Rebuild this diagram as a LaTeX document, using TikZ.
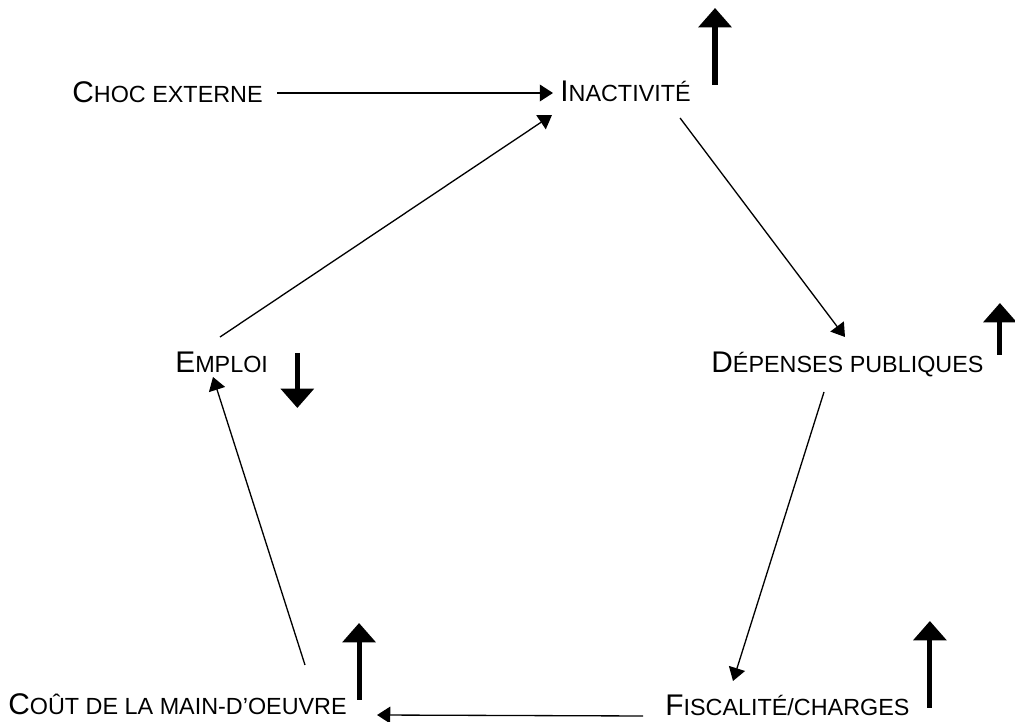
\documentclass[tikz,border=0pt]{standalone}
\usepackage{fontspec}
\setmainfont{Liberation Sans}
\usepackage{tikz}
\usetikzlibrary{calc}
\usetikzlibrary{arrows.meta}
\newcommand{\petites}[1]{{\fontsize{13.3}{15}\selectfont #1}}
\tikzset{
    etiquette/.style={inner sep=0pt, anchor=base west, font=\fontsize{17}{20}\selectfont},
    fleche/.style={line width=0.75pt, -{Triangle[length=7.5pt, width=9.5pt]}},
    tendance/.style={line width=2.9pt, -{Triangle[length=11pt, width=18.5pt]}}
}

\begin{document}
\begin{tikzpicture}[x=0.02cm, y=-0.02cm]
            % Frame to ensure alignment:
            \useasboundingbox                                                 (0, 0) rectangle (1015, 722);
            % Labels
            \node[etiquette] (choc)   at ( 72, 103) {C\petites{HOC EXTERNE}};
            \node[etiquette] (inact)  at (560, 102) {I\petites{NACTIVITÉ}};
            \node[etiquette] (dep)    at (711, 373) {D\petites{ÉPENSES PUBLIQUES}};
            \node[etiquette] (emploi) at (175, 373) {E\petites{MPLOI}};
            \node[etiquette] (cout)   at (  8, 715) {C\petites{OÛT DE LA MAIN-D’OEUVRE}};
            \node[etiquette] (fisc)   at (665, 716) {F\petites{ISCALITÉ/CHARGES}};
            % Cycle
            \draw[fleche] ($(choc.base east)+(14,-10)$)    -- ($(inact.base west)+(-7,-9)$);
            \draw[fleche] ($(inact.base east)+(-11,16)$)   -- ($(dep.base west)+(134,-36)$);
            \draw[fleche] ($(dep.base west)+(113,19)$)     -- ($(fisc.base west)+(68,-35)$);
            \draw[fleche] ($(fisc.base west)+(-22,0)$)     -- ($(cout.base east)+(30,0)$);
            \draw[fleche] ($(cout.base west)+(297,-50)$)   -- ($(emploi.base west)+(38,4)$);
            \draw[fleche] ($(emploi.base west)+(45,-36)$)  -- ($(inact.base west)+(-8,13)$);
            % Up / down
            \draw[tendance] ($(inact.base east)+(24,-17)$)  -- ++(0,-77);
            \draw[tendance] ($(dep.base east)+(16,-18)$)    -- ++(0,-52);
            \draw[tendance] ($(emploi.base east)+(29,-20)$) -- ++(0,55);
            \draw[tendance] ($(cout.base east)+(12,-15)$)   -- ++(0,-77);
            \draw[tendance] ($(fisc.base east)+(20,-8)$)    -- ++(0,-87);
        \end{tikzpicture}
\end{document}
